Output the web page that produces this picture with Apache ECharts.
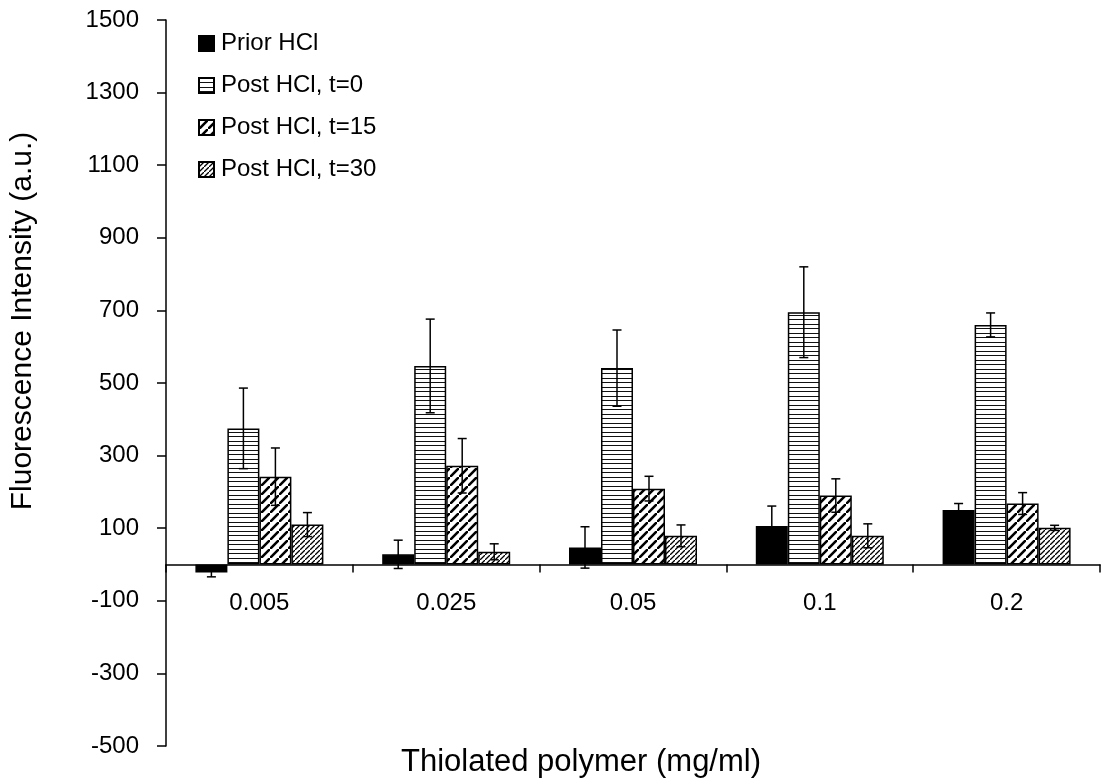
<!DOCTYPE html>
<html>
<head>
    <meta charset="UTF-8">
    <title>Fluorescence intensity</title>
    <style type="text/css">
        html, body { margin: 0; padding: 0; background: #fff; }
        #chart { width: 1101px; height: 782px; }
    </style>
</head>
<body>
<div id="chart"></div>
<script src="https://cdn.jsdelivr.net/npm/echarts@6/dist/echarts.min.js"></script>
<script>
    var categories = ['0.005', '0.025', '0.05', '0.1', '0.2'];
    var seriesNames = ['Prior HCl', 'Post HCl, t=0', 'Post HCl, t=15', 'Post HCl, t=30'];

    var priorHcl = [-22, 28, 47, 106, 150];
    var priorHclErr = [12, 39, 57, 55, 18];
    var postT0 = [375, 547, 541, 695, 660];
    var postT0Err = [111, 129, 105, 125, 33];
    var postT15 = [242, 272, 209, 190, 168];
    var postT15Err = [79, 75, 34, 46, 30];
    var postT30 = [110, 35, 79, 79, 101];
    var postT30Err = [33, 22, 30, 33, 7];

    var yTicks = { min: -500, max: 1500, interval: 200 };

    var values = [priorHcl, postT0, postT15, postT30];
    var errors = [priorHclErr, postT0Err, postT15Err, postT30Err];

    var BAR_W = 32;
    var FONT = '"Liberation Sans", Arial, sans-serif';
    var GRID_TOP = 20, GRID_BOTTOM = 36, H = 782;
    // the x axis sits on y=0, not at the bottom of the grid
    var plotH = H - GRID_TOP - GRID_BOTTOM;
    var zeroUp = plotH * (0 - yTicks.min) / (yTicks.max - yTicks.min);

    // pattern tiles
    function hLines() {
        var c = document.createElement('canvas');
        c.width = 8; c.height = 9;
        var g = c.getContext('2d');
        g.fillStyle = '#fff'; g.fillRect(0, 0, 8, 9);
        g.fillStyle = '#111';
        g.fillRect(0, 0, 8, 1);
        g.fillRect(0, 4, 8, 1);
        return c;
    }
    function diag(p, lw) {
        var c = document.createElement('canvas');
        c.width = p; c.height = p;
        var g = c.getContext('2d');
        g.fillStyle = '#fff'; g.fillRect(0, 0, p, p);
        g.strokeStyle = '#000';
        g.lineWidth = lw;
        g.beginPath();
        g.moveTo(-p, p * 2); g.lineTo(p * 2, -p);
        g.moveTo(-p * 2, p); g.lineTo(p, -p * 2);
        g.moveTo(0, p * 3); g.lineTo(p * 3, 0);
        g.stroke();
        return c;
    }

    var fills = [
        '#000',
        { image: hLines(), repeat: 'repeat' },
        { image: diag(9, 2.6), repeat: 'repeat' },
        { image: diag(5, 1.3), repeat: 'repeat' }
    ];

    var series = [];
    seriesNames.forEach(function (name, k) {
        series.push({
            name: name,
            type: 'bar',
            barWidth: BAR_W,
            barGap: 0,
            data: values[k],
            itemStyle: { color: fills[k], borderColor: '#000', borderWidth: 1.5 },
            emphasis: { disabled: true }
        });
    });

    // error bars
    seriesNames.forEach(function (name, k) {
        var data = values[k].map(function (v, i) { return [i, v, errors[k][i]]; });
        series.push({
            type: 'custom',
            z: 5,
            silent: true,
            data: data,
            renderItem: function (params, api) {
                var i = api.value(0), v = api.value(1), e = api.value(2);
                var hi = api.coord([i, v + e]);
                var lo = api.coord([i, v - e]);
                var x = hi[0] + (k - 1.5) * BAR_W;
                var st = { stroke: '#000', lineWidth: 1.5 };
                return {
                    type: 'group',
                    children: [
                        { type: 'line', shape: { x1: x, y1: hi[1], x2: x, y2: lo[1] }, style: st },
                        { type: 'line', shape: { x1: x - 4.5, y1: hi[1], x2: x + 4.5, y2: hi[1] }, style: st },
                        { type: 'line', shape: { x1: x - 4.5, y1: lo[1], x2: x + 4.5, y2: lo[1] }, style: st }
                    ]
                };
            }
        });
    });

    var chart = echarts.init(document.getElementById('chart'));
    chart.setOption({
        backgroundColor: '#fff',
        animation: false,
        textStyle: { fontFamily: FONT, color: '#000' },
        grid: { left: 166, right: 1, top: GRID_TOP, bottom: GRID_BOTTOM, outerBoundsMode: 'none' },
        legend: {
            data: seriesNames,
            orient: 'vertical',
            left: 193,
            top: 26,
            itemWidth: 15,
            itemHeight: 15,
            itemGap: 17,
            icon: 'rect',
            textStyle: { fontSize: 24, fontFamily: FONT, color: '#000', lineHeight: 25, padding: [0, 0, 0, 2] }
        },
        xAxis: {
            type: 'category',
            data: categories,
            offset: -zeroUp,
            name: 'Thiolated polymer (mg/ml)',
            nameLocation: 'middle',
            nameGap: 182,
            nameTextStyle: { fontSize: 31, fontFamily: FONT, color: '#000', lineHeight: 31, padding: [0, 104, 0, 0] },
            axisLine: { onZero: false, lineStyle: { color: '#000', width: 1.5 } },
            axisTick: { show: true, interval: 0, alignWithLabel: false, length: 8, lineStyle: { color: '#000', width: 1.5 } },
            axisLabel: { fontSize: 24, fontFamily: FONT, color: '#000', margin: 27 },
            splitLine: { show: false }
        },
        yAxis: {
            type: 'value',
            min: yTicks.min,
            max: yTicks.max,
            interval: yTicks.interval,
            name: 'Fluorescence Intensity (a.u.)',
            nameLocation: 'middle',
            nameGap: 128,
            nameTextStyle: { fontSize: 30, fontFamily: FONT, color: '#000', lineHeight: 30, padding: [0, 0, 0, 124] },
            axisLine: { show: true, lineStyle: { color: '#000', width: 1.5 } },
            axisTick: { show: true, length: 9, lineStyle: { color: '#000', width: 1.5 } },
            axisLabel: {
                fontSize: 24, fontFamily: FONT, color: '#000', margin: 27,
                formatter: function (v) { return String(v); }
            },
            splitLine: { show: false }
        },
        series: series
    });
</script>
</body>
</html>
